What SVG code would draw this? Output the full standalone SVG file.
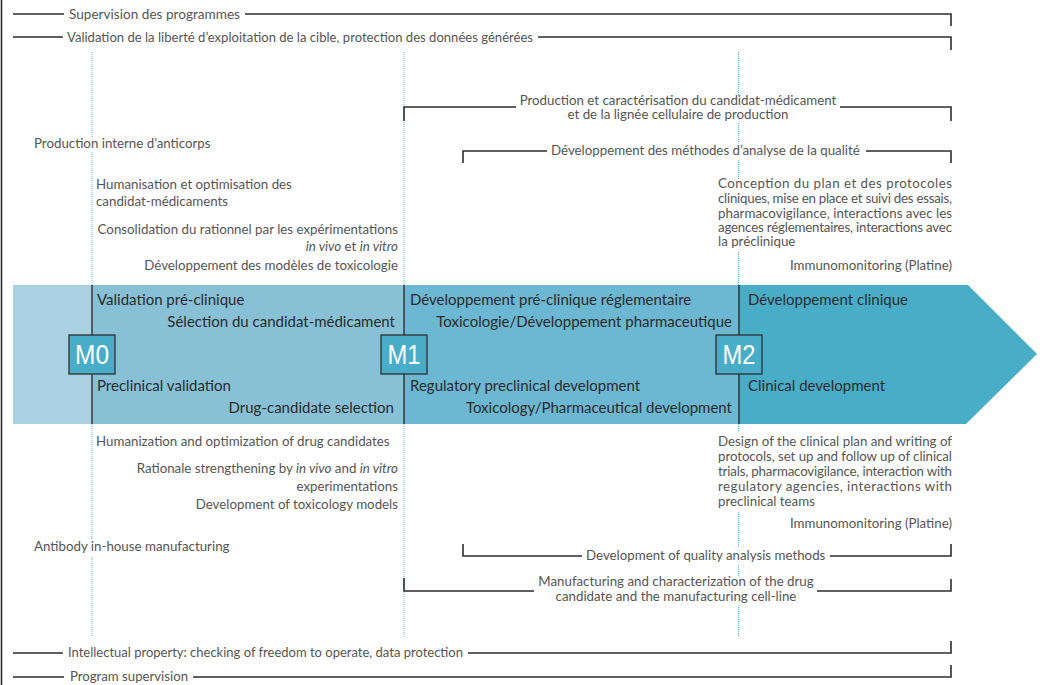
<svg xmlns="http://www.w3.org/2000/svg" width="1042" height="685" viewBox="0 0 1042 685">
<style>
.t{font-family:Lato,"Open Sans","Liberation Sans",sans-serif;font-size:13.3px;font-weight:400;fill:#555555}
.b{font-family:Lato,"Open Sans","Liberation Sans",sans-serif;font-size:15px;fill:#2b2b2b}
.r{text-anchor:end}
.m{text-anchor:middle}
.ln{stroke:#2e2e2e;stroke-width:1.6;fill:none}
.dot{stroke:#5bb6d6;stroke-width:1;stroke-dasharray:1 1;fill:none}
.div{stroke:#2e2e2e;stroke-width:1.4}
.mbox{fill:#4aadc8;stroke:#2e2e2e;stroke-width:1.3}
.mt{font-family:"Liberation Sans",Roboto,sans-serif;font-size:27px;fill:#ffffff;text-anchor:middle}
</style>
<rect width="1042" height="685" fill="#ffffff"/>
<line x1="1.5" y1="0" x2="1.5" y2="685" class="ln"/>

<g id="band">
<rect x="13" y="285" width="80" height="139" fill="#aad1e1"/>
<rect x="92" y="285" width="312" height="139" fill="#88c1d6"/>
<rect x="404" y="285" width="335" height="139" fill="#6cb7d1"/>
<polygon points="738,285 968,285 1037,354 966,424 738,424" fill="#4aadc8"/>
</g>

<g id="guides">
<path class="dot" d="M92,52V138M92,152V285M92,424V539M92,557V637"/>
<path class="dot" d="M404,52V285M404,424V637"/>
<path class="dot" d="M738.5,52V95M738.5,123V143M738.5,160V180M738.5,252V285M738.5,424V432M738.5,512V548M738.5,565V577M738.5,607V637"/>
</g>

<g id="connectors">
<path class="ln" d="M13,14H64M245,14H951V26"/>
<path class="ln" d="M13,37H63M538,37H951V50"/>
<path class="ln" d="M404,121V107H516M840,107H951V121"/>
<path class="ln" d="M463,163V151H547M866,151H951V163"/>
<path class="ln" d="M463,544V556H582M830,556H951V544"/>
<path class="ln" d="M404,578V591H534M817,591H951V579"/>
<path class="ln" d="M13,653H63M468,653H951V641"/>
<path class="ln" d="M13,677H64M193,677H951V665"/>
</g>

<g id="top-texts">
<text class="t" x="69" y="18.5" textLength="171" lengthAdjust="spacingAndGlyphs">Supervision des programmes</text>
<text class="t" x="67" y="41.5" textLength="466" lengthAdjust="spacingAndGlyphs">Validation de la liberté d’exploitation de la cible, protection des données générées</text>
<text class="t m" x="678" y="105">Production et caractérisation du candidat-médicament</text>
<text class="t m" x="678" y="119">et de la lignée cellulaire de production</text>
<text class="t" x="551" y="155">Développement des méthodes d’analyse de la qualité</text>
<text class="t" x="34" y="148">Production interne d’anticorps</text>
<text class="t" x="96" y="189">Humanisation et optimisation des</text>
<text class="t" x="96" y="206">candidat-médicaments</text>
<text class="t r" x="398" y="234">Consolidation du rationnel par les expérimentations</text>
<text class="t r" x="398" y="251"><tspan font-style="italic">in vivo</tspan> et <tspan font-style="italic">in vitro</tspan></text>
<text class="t r" x="398" y="270">Développement des modèles de toxicologie</text>
<text class="t" x="718" y="188" textLength="234" lengthAdjust="spacing">Conception du plan et des protocoles</text>
<text class="t" x="718" y="203" textLength="234" lengthAdjust="spacing">cliniques, mise en place et suivi des essais,</text>
<text class="t" x="718" y="218" textLength="234" lengthAdjust="spacing">pharmacovigilance, interactions avec les</text>
<text class="t" x="718" y="232" textLength="234" lengthAdjust="spacing">agences réglementaires, interactions avec</text>
<text class="t" x="718" y="246">la préclinique</text>
<text class="t r" x="952" y="270">Immunomonitoring (Platine)</text>
</g>

<g id="phase-m0">
<line x1="92" y1="285" x2="92" y2="424" class="div"/>
<text class="b" x="97" y="305">Validation pré-clinique</text>
<text class="b r" x="395" y="327">Sélection du candidat-médicament</text>
<text class="b" x="97" y="391">Preclinical validation</text>
<text class="b r" x="394" y="413">Drug-candidate selection</text>
<rect class="mbox" x="69" y="335" width="46" height="39"/>
<text class="mt" x="92" y="364" textLength="34" lengthAdjust="spacingAndGlyphs">M0</text>
</g>

<g id="phase-m1">
<line x1="404" y1="285" x2="404" y2="424" class="div"/>
<text class="b" x="410" y="305">Développement pré-clinique réglementaire</text>
<text class="b r" x="732" y="327">Toxicologie/Développement pharmaceutique</text>
<text class="b" x="410" y="391">Regulatory preclinical development</text>
<text class="b r" x="732" y="413">Toxicology/Pharmaceutical development</text>
<rect class="mbox" x="381" y="335" width="46" height="39"/>
<text class="mt" x="404" y="364" textLength="33" lengthAdjust="spacingAndGlyphs">M1</text>
</g>

<g id="phase-m2">
<line x1="739" y1="285" x2="739" y2="424" class="div"/>
<text class="b" x="748" y="305">Développement clinique</text>
<text class="b" x="748" y="391">Clinical development</text>
<rect class="mbox" x="716" y="335" width="46" height="39"/>
<text class="mt" x="739" y="364" textLength="33" lengthAdjust="spacingAndGlyphs">M2</text>
</g>

<g id="bottom-texts">
<text class="t" x="96" y="446">Humanization and optimization of drug candidates</text>
<text class="t r" x="398" y="473">Rationale strengthening by <tspan font-style="italic">in vivo</tspan> and <tspan font-style="italic">in vitro</tspan></text>
<text class="t r" x="398" y="491">experimentations</text>
<text class="t r" x="398" y="509">Development of toxicology models</text>
<text class="t" x="34" y="551">Antibody in-house manufacturing</text>
<text class="t" x="718" y="446" textLength="234" lengthAdjust="spacing">Design of the clinical plan and writing of</text>
<text class="t" x="718" y="461" textLength="234" lengthAdjust="spacing">protocols, set up and follow up of clinical</text>
<text class="t" x="718" y="476" textLength="234" lengthAdjust="spacing">trials, pharmacovigilance, interaction with</text>
<text class="t" x="718" y="491" textLength="234" lengthAdjust="spacing">regulatory agencies, interactions with</text>
<text class="t" x="718" y="506">preclinical teams</text>
<text class="t r" x="952" y="528">Immunomonitoring (Platine)</text>
<text class="t" x="586" y="560">Development of quality analysis methods</text>
<text class="t m" x="676" y="586">Manufacturing and characterization of the drug</text>
<text class="t m" x="676" y="601">candidate and the manufacturing cell-line</text>
<text class="t" x="68" y="657" textLength="395" lengthAdjust="spacingAndGlyphs">Intellectual property: checking of freedom to operate, data protection</text>
<text class="t" x="70" y="681" textLength="118" lengthAdjust="spacingAndGlyphs">Program supervision</text>
</g>
</svg>
